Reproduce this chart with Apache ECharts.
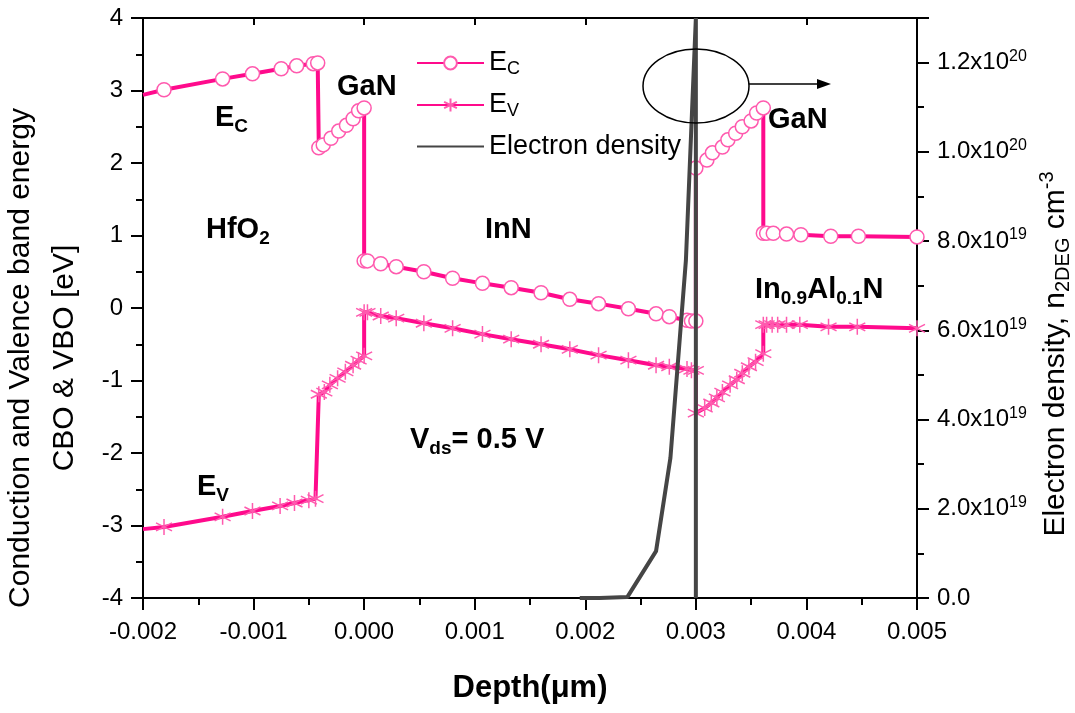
<!DOCTYPE html>
<html>
<head>
    <meta charset="utf-8">
    <title>Band diagram</title>
    <script src="https://cdn.jsdelivr.net/npm/echarts@6/dist/echarts.min.js"></script>
    <style>
        html, body { margin: 0; padding: 0; background: #fff; }
        #main { width: 1075px; height: 713px; }
    </style>
</head>
<body>
    <div id="main"></div>
    <script>
        var myChart = echarts.init(document.getElementById('main'));

        // conduction band edge (depth in um, energy in eV)
        const ecDepth = [-0.00200, -0.00181, -0.00128, -0.00101, -0.00075, -0.00061, -0.00046, -0.00042,
            -0.00041, -0.00037, -0.00030, -0.00023, -0.00016, -0.00010, -0.00005, 0.00000,
            0.00000, 0.00003, 0.00015, 0.00029, 0.00054, 0.00080, 0.00107, 0.00133, 0.00160,
            0.00186, 0.00212, 0.00239, 0.00264, 0.00276, 0.00292, 0.00296, 0.00300,
            0.00300, 0.00310, 0.00315, 0.00324, 0.00329, 0.00336, 0.00342, 0.00350, 0.00355, 0.00361,
            0.00361, 0.00364, 0.00370, 0.00382, 0.00395, 0.00422, 0.00447, 0.00500];
        const ecEnergy = [2.94, 3.01, 3.16, 3.23, 3.30, 3.34, 3.37, 3.38,
            2.21, 2.25, 2.34, 2.44, 2.52, 2.61, 2.72, 2.76,
            0.65, 0.65, 0.61, 0.57, 0.50, 0.41, 0.34, 0.28, 0.21,
            0.12, 0.06, -0.01, -0.08, -0.12, -0.17, -0.18, -0.18,
            1.93, 2.04, 2.14, 2.22, 2.32, 2.41, 2.50, 2.58, 2.69, 2.76,
            1.03, 1.03, 1.03, 1.02, 1.01, 0.99, 0.99, 0.98];

        // valence band edge
        const evDepth = [-0.00200, -0.00181, -0.00128, -0.00101, -0.00076, -0.00063, -0.00050, -0.00044,
            -0.00041, -0.00036, -0.00031, -0.00024, -0.00017, -0.00010, -0.00005, 0.00000,
            0.00000, 0.00003, 0.00015, 0.00029, 0.00054, 0.00080, 0.00107, 0.00133, 0.00160,
            0.00186, 0.00212, 0.00239, 0.00264, 0.00276, 0.00292, 0.00296, 0.00300,
            0.00300, 0.00308, 0.00314, 0.00319, 0.00324, 0.00331, 0.00337, 0.00342, 0.00348, 0.00354, 0.00361,
            0.00361, 0.00364, 0.00369, 0.00374, 0.00382, 0.00394, 0.00420, 0.00446, 0.00500];
        const evEnergy = [-3.05, -3.02, -2.88, -2.80, -2.73, -2.69, -2.65, -2.63,
            -1.19, -1.16, -1.06, -0.97, -0.88, -0.79, -0.72, -0.66,
            -0.06, -0.06, -0.11, -0.14, -0.21, -0.28, -0.36, -0.43, -0.50,
            -0.57, -0.65, -0.72, -0.79, -0.81, -0.84, -0.86, -0.86,
            -1.45, -1.38, -1.31, -1.24, -1.16, -1.06, -0.99, -0.90, -0.81, -0.74, -0.63,
            -0.23, -0.23, -0.23, -0.23, -0.23, -0.23, -0.26, -0.26, -0.28];

        // electron density (cm^-3)
        const nDepth = [0.00195, 0.00213, 0.00238, 0.00264, 0.00277, 0.00291, 0.00300, 0.00300];
        const nValue = [0, 0, 2e17, 1.05e19, 3.14e19, 7.57e19, 1.30e20, 0];

        const pink = '#ff0a8c';
        const markPink = '#ff5aae';
        const font = 'Liberation Sans, Arial, sans-serif';
        const starPath = 'path://M5,0L5,10M0.67,2.5L9.33,7.5M0.67,7.5L9.33,2.5';
        const black = { color: '#000', width: 2 };

        function pairs(xs, ys) {
            return xs.map((x, i) => {
                const d = { value: [x, ys[i]] };
                if (i === 0) d.symbol = 'none';
                return d;
            });
        }

        function sciLabel(v) {
            if (v === 0) return '0.0';
            const e = Math.floor(Math.log10(v) + 1e-9);
            const m = (v / Math.pow(10, e)).toFixed(1);
            return m + 'x10{sup|' + e + '}';
        }

        const legendNames = { EC: 'E{sub|C}', EV: 'E{sub|V}', n: 'Electron density' };

        // bold annotation text, (x, cy) = left edge and vertical middle
        function richLabel(x, cy, text) {
            return {
                type: 'text',
                x: x,
                y: cy,
                z: 100,
                style: {
                    text: text,
                    fill: '#000',
                    verticalAlign: 'middle',
                    font: 'bold 29px ' + font,
                    rich: {
                        b: { fontSize: 29, fontWeight: 'bold', fontFamily: font, lineHeight: 34 },
                        s: { fontSize: 19, fontWeight: 'bold', fontFamily: font, lineHeight: 19, padding: [17, 0, 0, 0] }
                    }
                }
            };
        }

        const option = {
            animation: false,
            textStyle: { fontFamily: font },
            grid: { left: 143, right: 158, top: 18, bottom: 115, outerBoundsMode: 'none' },
            legend: {
                orient: 'vertical',
                left: 411,
                top: 43,
                itemWidth: 67,
                itemHeight: 16,
                itemGap: 12,
                data: ['EC', 'EV', { name: 'n', itemStyle: { opacity: 0 } }],
                formatter: name => legendNames[name],
                textStyle: {
                    fontSize: 27,
                    lineHeight: 29,
                    color: '#000',
                    rich: {
                        sub: { fontSize: 18, padding: [12, 0, 0, 0], lineHeight: 18 }
                    }
                }
            },
            xAxis: [{
                type: 'value',
                min: -0.002,
                max: 0.005,
                interval: 0.001,
                name: 'Depth(μm)',
                nameLocation: 'middle',
                nameGap: 75,
                nameTextStyle: { fontSize: 31, fontWeight: 'bold', color: '#000' },
                axisLine: { onZero: false, lineStyle: black },
                axisTick: { length: 12, lineStyle: black },
                minorTick: { show: true, splitNumber: 2, length: 7, lineStyle: black },
                splitLine: { show: false },
                axisLabel: {
                    fontSize: 24, color: '#000', margin: 22,
                    formatter: v => (Math.abs(v) < 1e-9 ? 0 : v).toFixed(3)
                }
            }, {
                type: 'value',
                position: 'top',
                min: -0.002,
                max: 0.005,
                interval: 0.001,
                axisLine: { onZero: false, lineStyle: black },
                axisTick: { inside: true, length: 7, lineStyle: black },
                axisLabel: { show: false },
                splitLine: { show: false }
            }],
            yAxis: [{
                type: 'value',
                min: -4,
                max: 4,
                interval: 1,
                name: 'Conduction and Valence band energy\nCBO & VBO [eV]',
                nameLocation: 'middle',
                nameGap: 56,
                nameTextStyle: { fontSize: 30, color: '#000', lineHeight: 44, padding: [0, 100, 0, 0] },
                axisLine: { show: true, onZero: false, lineStyle: black },
                axisTick: { length: 12, lineStyle: black },
                minorTick: { show: true, splitNumber: 2, length: 7, lineStyle: black },
                splitLine: { show: false },
                axisLabel: { fontSize: 24, color: '#000', margin: 20 }
            }, {
                type: 'value',
                position: 'right',
                min: 0,
                max: 1.3e20,
                interval: 2e19,
                name: 'Electron density, n{sub|2DEG} cm{sup|-3}',
                nameLocation: 'middle',
                nameRotate: 90,
                nameGap: 122,
                nameTextStyle: {
                    fontSize: 30, color: '#000', padding: [0, 92, 0, 0],
                    rich: {
                        sub: { fontSize: 20, padding: [16, 0, 0, 0], lineHeight: 20 },
                        sup: { fontSize: 20, padding: [0, 0, 16, 0], lineHeight: 20 }
                    }
                },
                axisLine: { show: true, onZero: false, lineStyle: black },
                axisTick: { length: 12, lineStyle: black },
                minorTick: { show: true, splitNumber: 2, length: 7, lineStyle: black },
                splitLine: { show: false },
                axisLabel: {
                    fontSize: 24, color: '#000', margin: 20, showMaxLabel: false,
                    formatter: sciLabel,
                    rich: { sup: { fontSize: 16, padding: [0, 0, 12, 0], lineHeight: 16 } }
                }
            }],
            series: [{
                name: 'EC',
                type: 'line',
                xAxisIndex: 0,
                yAxisIndex: 0,
                symbol: 'circle',
                symbolSize: 14,
                lineStyle: { color: pink, width: 4 },
                itemStyle: { color: '#fff', borderColor: markPink, borderWidth: 1.5 },
                data: pairs(ecDepth, ecEnergy),
                z: 3
            }, {
                name: 'EV',
                type: 'line',
                xAxisIndex: 0,
                yAxisIndex: 0,
                symbol: starPath,
                symbolSize: 16,
                lineStyle: { color: pink, width: 4 },
                itemStyle: { color: 'rgba(0,0,0,0)', borderColor: markPink, borderWidth: 1.5 },
                data: pairs(evDepth, evEnergy),
                z: 3
            }, {
                name: 'n',
                type: 'line',
                xAxisIndex: 0,
                yAxisIndex: 1,
                symbol: 'none',
                lineStyle: { color: '#454545', width: 4 },
                itemStyle: { color: '#454545' },
                data: nDepth.map((x, i) => [x, nValue[i]]),
                z: 4
            }],
            graphic: [
                richLabel(215, 118, '{b|E}{s|C}'),
                richLabel(337, 87, '{b|GaN}'),
                richLabel(206, 230, '{b|HfO}{s|2}'),
                richLabel(485, 230, '{b|InN}'),
                richLabel(768, 120, '{b|GaN}'),
                richLabel(755, 290, '{b|In}{s|0.9}{b|Al}{s|0.1}{b|N}'),
                richLabel(410, 440, '{b|V}{s|ds}{b|= 0.5 V}'),
                richLabel(197, 487, '{b|E}{s|V}'),
                {
                    type: 'ellipse', z: 90,
                    shape: { cx: 696, cy: 86, rx: 53, ry: 37 },
                    style: { fill: 'none', stroke: '#000', lineWidth: 1.5 }
                },
                {
                    type: 'line', z: 90,
                    shape: { x1: 749, y1: 84, x2: 820, y2: 84 },
                    style: { stroke: '#000', lineWidth: 1.5 }
                },
                {
                    type: 'polygon', z: 90,
                    shape: { points: [[817, 79], [831, 84], [817, 89]] },
                    style: { fill: '#000' }
                }
            ]
        };

        myChart.setOption(option);
    </script>
</body>
</html>
